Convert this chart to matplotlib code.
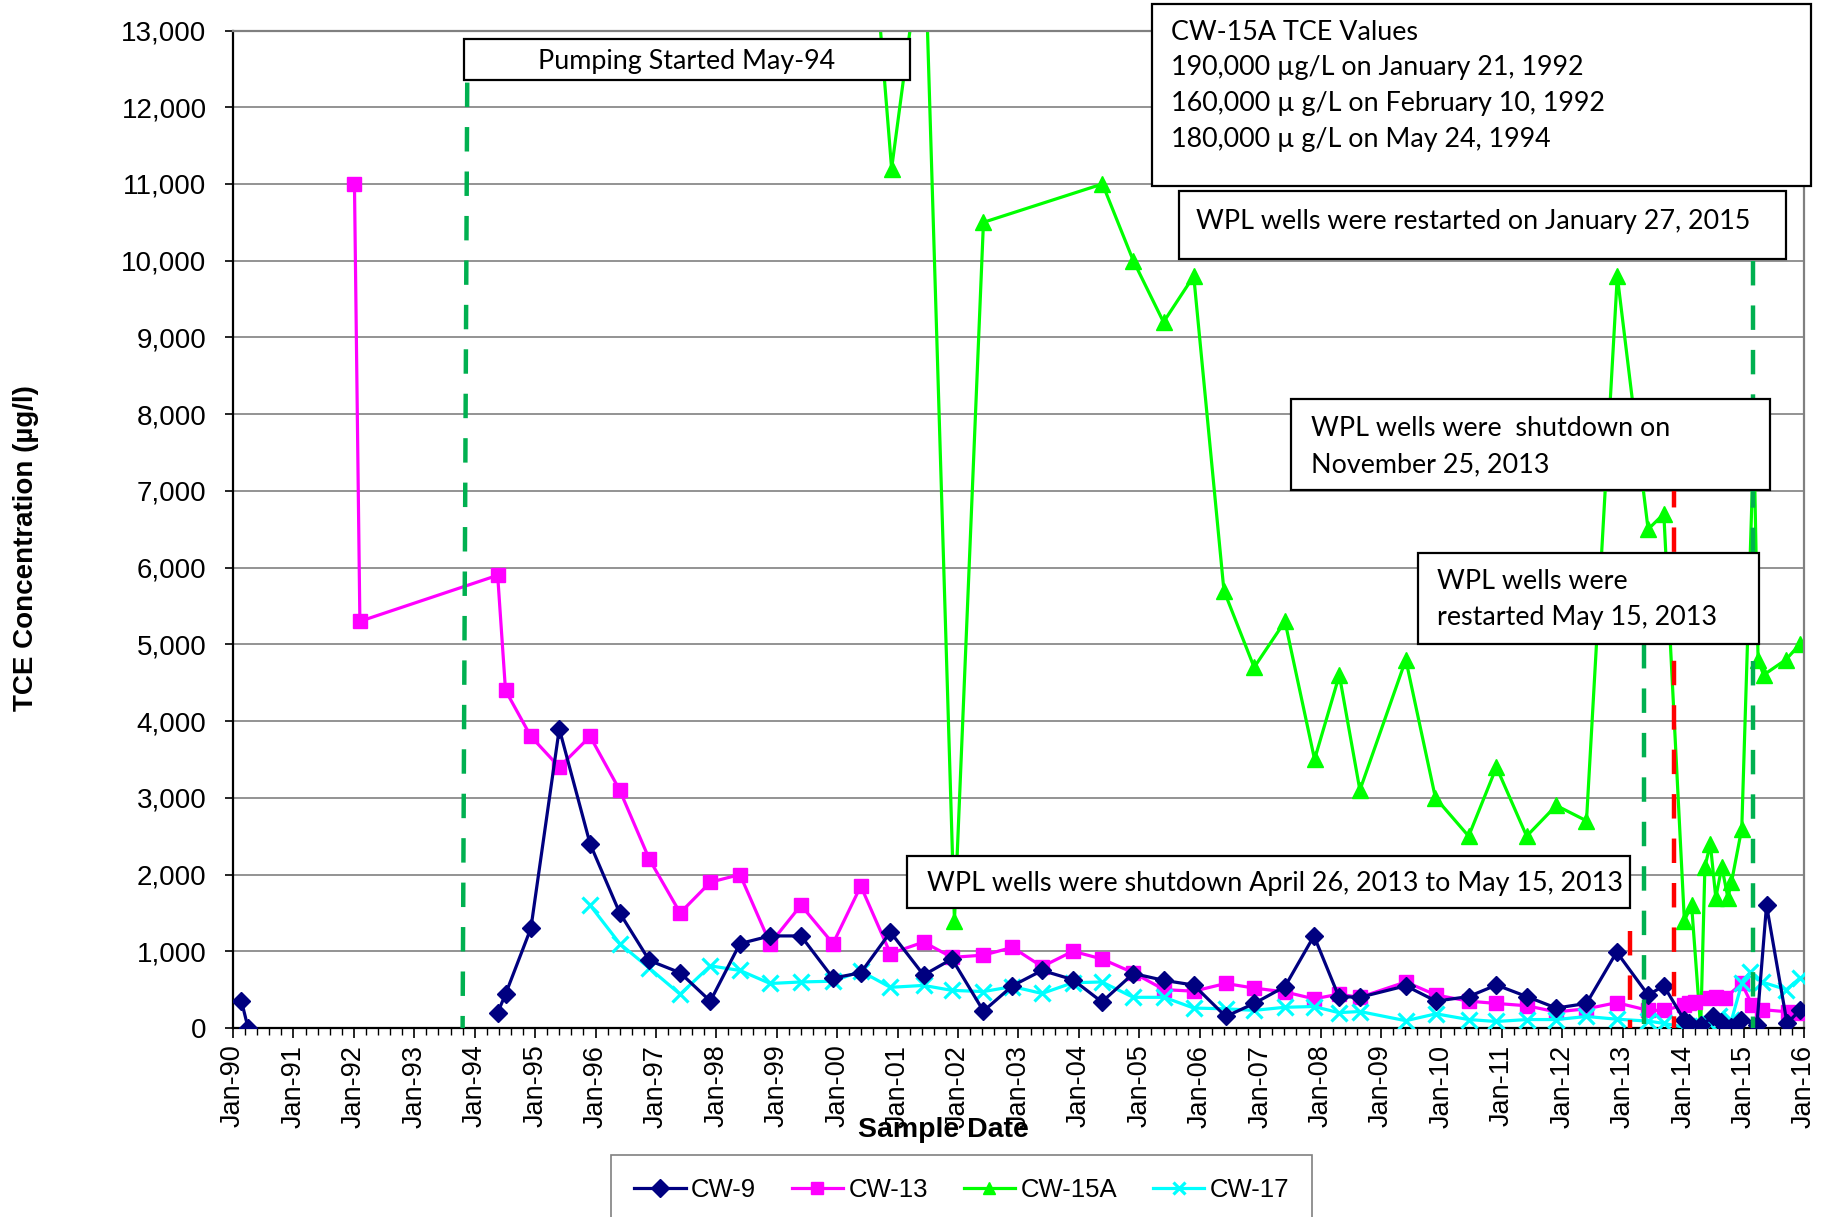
import matplotlib
matplotlib.use('Agg')
import matplotlib.pyplot as plt
from matplotlib import font_manager
from matplotlib.patches import Rectangle
from matplotlib.ticker import FixedLocator, MultipleLocator, FuncFormatter

nan = float('nan')

# sample dates as decimal years, TCE in ug/l (nan = gap in the record)
cw9_dates = [1990.14, 1990.25, 1992.0, 1994.38, 1994.51, 1994.93, 1995.40, 1995.91, 1996.40, 1996.89, 1997.40,
             1997.90, 1998.39, 1998.89, 1999.40, 1999.93, 2000.39, 2000.88, 2001.43, 2001.90, 2002.42,
             2002.90, 2003.39, 2003.90, 2004.38, 2004.90, 2005.41, 2005.90, 2006.43, 2006.90, 2007.41,
             2007.89, 2008.30, 2008.65, 2009.41, 2009.91, 2010.45, 2010.91, 2011.41, 2011.90, 2012.40,
             2012.90, 2013.42, 2013.68, 2014.02, 2014.10, 2014.30, 2014.50, 2014.62, 2014.80, 2014.95,
             2015.22, 2015.38, 2015.72, 2015.93]
cw9_vals = [350, 0, nan, 200, 440, 1300, 3900, 2400, 1500, 880, 720,
            350, 1100, 1200, 1200, 650, 720, 1250, 690, 900, 220,
            550, 750, 630, 340, 710, 620, 560, 150, 320, 540,
            1200, 410, 400, 550, 350, 410, 560, 410, 260, 320,
            990, 430, 550, 100, 60, 40, 150, 80, 10, 110,
            40, 1600, 60, 230]

cw13_dates = [1992.01, 1992.10, 1994.38, 1994.51, 1994.93, 1995.40, 1995.91, 1996.40, 1996.89, 1997.40,
              1997.90, 1998.39, 1998.89, 1999.40, 1999.93, 2000.39, 2000.88, 2001.43, 2001.90, 2002.42,
              2002.90, 2003.39, 2003.90, 2004.38, 2004.90, 2005.41, 2005.90, 2006.43, 2006.90, 2007.41,
              2007.89, 2008.30, 2008.65, 2009.41, 2009.91, 2010.45, 2010.91, 2011.41, 2011.90, 2012.40,
              2012.90, 2013.42, 2013.68, 2014.02, 2014.10, 2014.20, 2014.44, 2014.55, 2014.69, 2014.97,
              2015.14, 2015.30, 2015.74, 2015.93]
cw13_vals = [11000, 5300, 5900, 4400, 3800, 3400, 3800, 3100, 2200, 1500,
             1900, 2000, 1100, 1600, 1100, 1850, 970, 1120, 920, 950,
             1050, 800, 1000, 900, 720, 500, 480, 580, 520, 470,
             380, 440, 400, 600, 430, 350, 320, 290, 210, 250,
             330, 230, 230, 300, 320, 340, 390, 400, 390, 580,
             300, 240, 210, 190]

cw15a_dates = [1992.05, 1992.11, 1994.39, 2000.41, 2000.90, 2001.44, 2001.94, 2002.42, 2004.39, 2004.90,
               2005.40, 2005.90, 2006.40, 2006.90, 2007.41, 2007.90, 2008.31, 2008.65, 2009.41, 2009.90,
               2010.45, 2010.91, 2011.41, 2011.90, 2012.40, 2012.91, 2013.42, 2013.68, 2014.02, 2014.14,
               2014.29, 2014.36, 2014.45, 2014.54, 2014.64, 2014.74, 2014.80, 2014.97, 2015.17, 2015.24,
               2015.33, 2015.70, 2015.93]
cw15a_vals = [190000, 160000, 180000, 16000, 11200, 14400, 1400, 10500, 11000, 10000,
              9200, 9800, 5700, 4700, 5300, 3500, 4600, 3100, 4800, 3000,
              2500, 3400, 2500, 2900, 2700, 9800, 6500, 6700, 1400, 1600,
              0, 2100, 2400, 1700, 2100, 1700, 1900, 2600, 7700, 4800,
              4600, 4800, 5000]

cw17_dates = [1995.91, 1996.40, 1996.89, 1997.40, 1997.90, 1998.39, 1998.89, 1999.40, 1999.93, 2000.39,
              2000.88, 2001.43, 2001.90, 2002.42, 2002.90, 2003.39, 2003.90, 2004.38, 2004.90, 2005.41,
              2005.90, 2006.43, 2006.90, 2007.41, 2007.89, 2008.30, 2008.65, 2009.41, 2009.91, 2010.45,
              2010.91, 2011.41, 2011.90, 2012.40, 2012.90, 2013.42, 2013.68, 2014.02, 2014.10, 2014.20,
              2014.30, 2014.44, 2014.60, 2014.80, 2014.97, 2015.11, 2015.30, 2015.71, 2015.93]
cw17_vals = [1600, 1100, 780, 440, 810, 750, 580, 600, 610, 740,
             530, 555, 490, 475, 540, 450, 590, 600, 400, 400,
             260, 250, 230, 270, 280, 200, 215, 95, 185, 110,
             85, 110, 110, 150, 115, 90, 60, 10, 20, 0,
             30, 50, 150, 100, 580, 730, 600, 500, 650]

years = list(range(1990, 2017))
year_labels = ['Jan-%02d' % (y % 100) for y in years]

# event lines
pumping_line = (1993.88, 1993.80, 12900)   # x top, x bottom, y top
red_lines = [(2013.12, 1260), (2013.85, 7100)]
green_lines = [(2013.35, 5000), (2015.15, 10000)]

names = {f.name for f in font_manager.fontManager.ttflist}
narrow = 'Liberation Sans Narrow' if 'Liberation Sans Narrow' in names else 'Liberation Sans'
plt.rcParams['font.family'] = ['Liberation Sans', 'DejaVu Sans']

W, H = 1830, 1217
fig = plt.figure(figsize=(W / 100, H / 100), dpi=100)
ax = fig.add_axes([233 / W, 1 - 1028 / H, (1804 - 233) / W, (1028 - 30.5) / H])

def fx(px):
    return px / W

def fy(py):
    return 1 - py / H

ax.plot(cw9_dates, cw9_vals, color='#000080', lw=2.3, marker='D', ms=9, zorder=4, label='CW-9')
ax.plot(cw13_dates, cw13_vals, color='#FF00FF', lw=2.3, marker='s', ms=10.5, zorder=3, label='CW-13')
ax.plot(cw15a_dates, cw15a_vals, color='#00FF00', lw=2.3, marker='^', ms=11.5, zorder=2, label='CW-15A')
ax.plot(cw17_dates, cw17_vals, color='#00FFFF', lw=2.3, marker='x', ms=11, mew=2.3, zorder=3, label='CW-17')

dash = (0, (5.5, 4.5))
ax.plot([pumping_line[0], pumping_line[1]], [pumping_line[2], 0], color='#00B050', lw=3.2, ls=dash,
        zorder=6, clip_on=False)
for x, top in red_lines:
    ax.plot([x, x], [top, 0], color='#FF0000', lw=3.2, ls=dash, zorder=5)
for x, top in green_lines:
    ax.plot([x, x], [top, 0], color='#00B050', lw=3.2, ls=dash, zorder=5)

ax.set_xlim(1990, 2016)
ax.set_ylim(0, 13000)
ax.xaxis.set_major_locator(FixedLocator(years))
ax.xaxis.set_minor_locator(MultipleLocator(0.2))
ax.set_xticklabels(year_labels, rotation=90, fontsize=19.5)
ax.yaxis.set_major_locator(MultipleLocator(1000))
ax.yaxis.set_major_formatter(FuncFormatter(lambda v, p: '{:,.0f}'.format(v)))
ax.tick_params(axis='y', labelsize=20, length=6, width=1.2, pad=13)
ax.tick_params(axis='x', which='major', length=7, width=1.2, pad=5)
ax.tick_params(axis='x', which='minor', length=5, width=1.0)
ax.grid(axis='y', color='#808080', lw=1.2)
ax.set_axisbelow(True)
for s in ['left', 'bottom']:
    ax.spines[s].set_color('black')
    ax.spines[s].set_linewidth(1.6)
for s in ['top', 'right']:
    ax.spines[s].set_color('#808080')
    ax.spines[s].set_linewidth(1.6)

fig.text(fx(26), fy(548), 'TCE Concentration (µg/l)', rotation=90, fontsize=20, fontweight='bold',
         ha='center', va='center')
fig.text(fx(943), fy(1130), 'Sample Date', fontsize=24 if narrow != 'Liberation Sans' else 20.5,
         fontweight='bold', family=narrow, ha='center', va='center', zorder=10)

# annotation boxes (pixel positions in the 1830x1217 picture)
def box(x0, y0, x1, y1):
    fig.patches.append(Rectangle((fx(x0), fy(y1)), (x1 - x0) / W, (y1 - y0) / H,
                                 transform=fig.transFigure, fc='white', ec='black', lw=1.6, zorder=5))

def label(x, y, s, ha='left'):
    fig.text(fx(x), fy(y), s, fontsize=19.4, family=['Lato', 'DejaVu Sans'], ha=ha, va='center', zorder=7)

box(464, 38.5, 910, 79.5)
label(687, 62, 'Pumping Started May-94', ha='center')

box(1152, 3.5, 1811, 185.5)
label(1171, 33, 'CW-15A TCE Values')
label(1171, 68, '190,000 µg/L on January 21, 1992')
label(1171, 104, '160,000 µ g/L on February 10, 1992')
label(1171, 139, '180,000 µ g/L on May 24, 1994')

box(1179, 191.5, 1786, 259)
label(1196, 221, 'WPL wells were restarted on January 27, 2015')

box(1291, 399, 1770, 490)
label(1311, 429, 'WPL wells were  shutdown on')
label(1311, 465, 'November 25, 2013')

box(1418, 553, 1759, 644)
label(1437, 582, 'WPL wells were')
label(1437, 618, 'restarted May 15, 2013')

box(907, 856, 1630, 908)
label(927, 883, 'WPL wells were shutdown April 26, 2013 to May 15, 2013')

handles, labels = ax.get_legend_handles_labels()
leg = fig.legend(handles, labels, loc='upper left', bbox_to_anchor=(fx(611), fy(1155)), ncol=4,
                 frameon=True, fancybox=False, edgecolor='#808080', framealpha=1,
                 prop={'family': narrow, 'size': 21 if narrow != 'Liberation Sans' else 18.5},
                 handlelength=2.0, handletextpad=0.2, columnspacing=1.4, borderpad=0.9,
                 borderaxespad=0)
leg.get_frame().set_linewidth(1.2)
for h in leg.legend_handles:
    h.set_markersize(9)

fig.savefig('out.png', dpi=100)
